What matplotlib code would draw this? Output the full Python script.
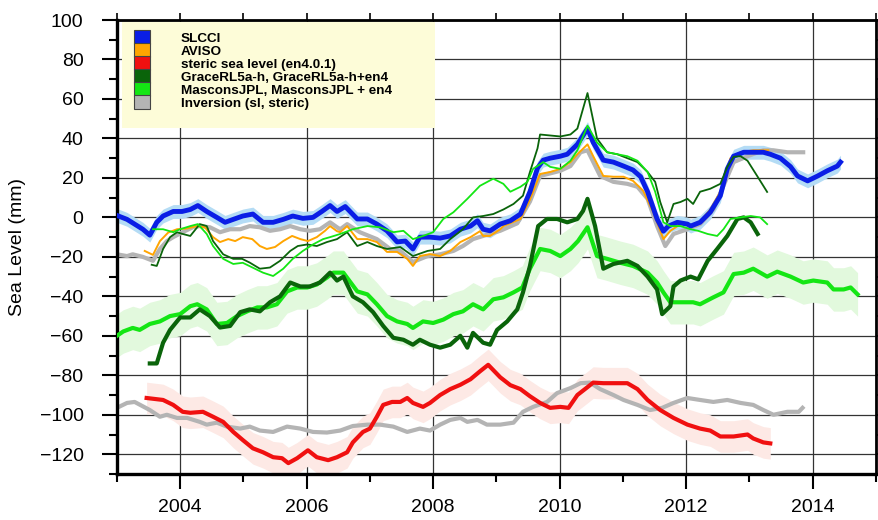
import matplotlib
matplotlib.use("Agg")
import matplotlib.pyplot as plt
from matplotlib.patches import Patch, Rectangle
import numpy as np

plt.rcParams['font.family'] = ['Liberation Sans', 'DejaVu Sans']

# SLCCI altimetry
slcci_t = [2003.00, 2003.16, 2003.41, 2003.52, 2003.63, 2003.73, 2003.89, 2004.03, 2004.16, 2004.28,
           2004.42, 2004.58, 2004.71, 2004.84, 2004.99, 2005.15, 2005.31, 2005.47, 2005.63, 2005.78,
           2005.94, 2006.10, 2006.24, 2006.37, 2006.48, 2006.61, 2006.80, 2006.96, 2007.11, 2007.27,
           2007.43, 2007.56, 2007.68, 2007.79, 2007.95, 2008.11, 2008.27, 2008.43, 2008.59, 2008.70,
           2008.79, 2008.90, 2009.06, 2009.22, 2009.38, 2009.53, 2009.65, 2009.74, 2009.85, 2010.01,
           2010.12, 2010.28, 2010.44, 2010.53, 2010.69, 2010.85, 2011.01, 2011.16, 2011.28, 2011.39,
           2011.54, 2011.64, 2011.72, 2011.86, 2012.02, 2012.07, 2012.22, 2012.38, 2012.54, 2012.65,
           2012.75, 2012.91, 2013.06, 2013.22, 2013.33, 2013.49, 2013.65, 2013.76, 2013.92, 2014.08,
           2014.23, 2014.39, 2014.44]
slcci_v = [1, -1, -6, -9, -2.5, 0.7, 3, 3, 4, 6,
           3, 0, -2.5, -1, 0.7, 1.7, -2.5, -2.5, -1, 0.7,
           -0.5, 0, 3, 6, 3, 5.5, -0.8, -0.8, -3.4, -6.8,
           -12.4, -12, -16, -10, -10, -10.5, -9.4, -6, -4.4, -1.7,
           -6, -6.8, -3.4, -1.7, 1.7, 13, 25, 29, 30, 31,
           32, 37, 45, 38, 29, 28, 26, 24, 20.6, 13,
           -0.8, -7, -4.4, -2.5, -3.4, -4.4, -2.5, 2.6, 11, 24.6,
           31, 33, 33, 33, 32, 30, 25.7, 21, 18.5, 21,
           23.6, 26, 28]

# AVISO altimetry
aviso_t = [2003.44, 2003.57, 2003.68, 2003.81, 2003.95, 2004.11, 2004.27, 2004.39, 2004.52, 2004.63,
           2004.76, 2004.87, 2004.99, 2005.14, 2005.26, 2005.37, 2005.50, 2005.63, 2005.77, 2005.90,
           2006.02, 2006.16, 2006.29, 2006.37, 2006.48, 2006.53, 2006.64, 2006.80, 2006.96, 2007.11,
           2007.27, 2007.43, 2007.59, 2007.68, 2007.79, 2007.95, 2008.11, 2008.27, 2008.43, 2008.59,
           2008.74, 2008.79, 2008.90, 2009.06, 2009.11, 2009.38, 2009.53, 2009.69, 2009.85, 2010.01,
           2010.17, 2010.28, 2010.44, 2010.53, 2010.69, 2010.85, 2011.01, 2011.16, 2011.32, 2011.48,
           2011.64, 2011.75, 2011.91, 2012.07, 2012.22, 2012.38, 2012.54, 2012.70, 2012.86, 2013.06,
           2013.30]
aviso_v = [-17, -19, -12, -7.7, -6, -5.6, -4.4, -5, -10, -12.5,
           -11, -12, -10, -11, -14.5, -16, -15, -12, -9.4, -11,
           -12, -10, -6.8, -4.4, -7, -7.5, -4.4, -11, -11, -12.5,
           -17.5, -17.5, -21, -24.6, -19.6, -18.6, -19.6, -17, -12.5, -10,
           -7, -9.4, -9.4, -6, -4.4, -0.8, 9, 22, 23, 24.6,
           28, 32, 37, 31, 21, 20.6, 20.6, 18.5, 13.5, 2.6,
           -11, -6.8, -3.4, -4.4, -2, 4, 13, 30, 33, 34,
           34]

# steric sea level (en4.0.1)
steric_t = [2003.47, 2003.73, 2003.89, 2004.04, 2004.16, 2004.36, 2004.52, 2004.68, 2004.84, 2004.99,
            2005.15, 2005.31, 2005.47, 2005.61, 2005.71, 2005.85, 2006.02, 2006.16, 2006.34, 2006.48,
            2006.64, 2006.73, 2006.89, 2007.00, 2007.11, 2007.21, 2007.35, 2007.48, 2007.59, 2007.68,
            2007.84, 2007.95, 2008.11, 2008.27, 2008.43, 2008.59, 2008.74, 2008.87, 2009.06, 2009.22,
            2009.38, 2009.53, 2009.69, 2009.85, 2010.01, 2010.14, 2010.28, 2010.44, 2010.53, 2010.69,
            2010.85, 2011.07, 2011.23, 2011.39, 2011.59, 2011.80, 2012.02, 2012.22, 2012.38, 2012.54,
            2012.75, 2012.97, 2013.06, 2013.22, 2013.33]
steric_v = [-91.5, -92.5, -95, -98.5, -99, -98.5, -101, -103.6, -108.7, -112.8,
            -117, -119, -121.5, -122, -124.5, -122, -118, -121.5, -123, -121.5,
            -119, -114, -108.7, -107, -101, -95, -93.5, -93.5, -91.5, -94,
            -96, -94, -90, -87, -84.8, -82, -78, -74.7, -81, -85,
            -87, -90.6, -94, -96.5, -96, -96.5, -90, -86, -83.7, -84,
            -84, -84, -87, -92.5, -97.6, -101.6, -105, -107, -108, -111,
            -111, -110, -112, -114, -114.5]

# GraceRL5a-h (mass) and GraceRL5a-h + en4
grace_t = [2003.52, 2003.63, 2003.73, 2003.84, 2004.00, 2004.16, 2004.31, 2004.47, 2004.63, 2004.79,
           2004.95, 2005.10, 2005.26, 2005.42, 2005.58, 2005.74, 2005.90, 2006.05, 2006.21, 2006.37,
           2006.48, 2006.58, 2006.73, 2006.89, 2007.05, 2007.21, 2007.37, 2007.53, 2007.68, 2007.79,
           2007.95, 2008.11, 2008.27, 2008.43, 2008.54, 2008.63, 2008.79, 2008.90, 2009.01, 2009.17,
           2009.33, 2009.42, 2009.53, 2009.66, 2009.80, 2009.96, 2010.12, 2010.28, 2010.37, 2010.44,
           2010.56, 2010.69, 2010.85, 2011.07, 2011.23, 2011.39, 2011.54, 2011.62, 2011.75, 2011.80,
           2011.91, 2012.07, 2012.19, 2012.34, 2012.49, 2012.65, 2012.81, 2012.91, 2013.02, 2013.13]
grace_v = [-74, -74, -63.5, -57, -50.7, -50.7, -46.6, -50, -55.8, -55,
           -48, -46.6, -47.6, -43, -40, -33, -35, -35, -33, -28,
           -32, -30, -40, -43, -48, -55, -61, -62, -64.5, -62,
           -64.5, -66, -64.5, -60, -66, -58.5, -63.5, -64.5, -57, -52.7,
           -46.6, -38, -24.6, -4.4, -0.8, -0.8, -2.5, -0.8, 3.3, 9.4,
           -4.4, -26, -23.6, -22, -24.6, -30, -36.5, -49, -45, -35,
           -32, -30, -31.4, -22, -16, -9.4, -0.8, 0, -2.5, -8.4]

grace_en4_t = [2003.55, 2003.63, 2003.73, 2003.84, 2003.95, 2004.04, 2004.16, 2004.31, 2004.42, 2004.52,
               2004.68, 2004.84, 2004.98, 2005.10, 2005.26, 2005.42, 2005.58, 2005.74, 2005.86, 2006.01,
               2006.16, 2006.32, 2006.48, 2006.64, 2006.80, 2006.96, 2007.11, 2007.27, 2007.48, 2007.68,
               2007.91, 2008.11, 2008.27, 2008.47, 2008.63, 2008.79, 2008.95, 2009.11, 2009.27, 2009.42,
               2009.53, 2009.65, 2009.69, 2010.01, 2010.17, 2010.28, 2010.44, 2010.59, 2010.75, 2010.91,
               2011.07, 2011.23, 2011.39, 2011.51, 2011.59, 2011.70, 2011.80, 2011.91, 2012.02, 2012.11,
               2012.22, 2012.38, 2012.54, 2012.65, 2012.75, 2012.86, 2012.97, 2013.13, 2013.28]
grace_en4_v = [-24, -24.6, -16, -10, -7.5, -8.4, -9.4, -3.4, -4.4, -12,
               -18.7, -21, -21, -22.9, -26, -25.4, -22, -17, -14.5, -13.7,
               -14.5, -12.5, -11, -7.5, -14.5, -12.5, -14.5, -16, -15, -19.6,
               -17, -16, -11, -6, 0, 0.7, 1.7, 4, 6.8, 11,
               23, 35, 42, 41, 42, 45, 63, 40, 33, 32,
               30, 28, 23, 18, 7.8, -2.5, 6.8, 7.8, 9.4, 6.8,
               13, 14.5, 17, 25.6, 30.7, 31, 28.7, 20.6, 12.9]

# MasconsJPL (mass) and MasconsJPL + en4
mascon_t = [2003.00, 2003.10, 2003.25, 2003.36, 2003.52, 2003.68, 2003.84, 2004.00, 2004.16, 2004.27,
            2004.42, 2004.58, 2004.74, 2004.90, 2005.06, 2005.22, 2005.37, 2005.53, 2005.69, 2005.85,
            2006.01, 2006.16, 2006.32, 2006.42, 2006.58, 2006.80, 2006.96, 2007.11, 2007.27, 2007.43,
            2007.59, 2007.68, 2007.84, 2008.00, 2008.16, 2008.32, 2008.47, 2008.63, 2008.79, 2008.95,
            2009.11, 2009.27, 2009.41, 2009.53, 2009.69, 2009.85, 2010.01, 2010.17, 2010.29, 2010.44,
            2010.59, 2010.75, 2010.96, 2011.16, 2011.39, 2011.54, 2011.64, 2011.75, 2011.91, 2012.11,
            2012.22, 2012.43, 2012.59, 2012.75, 2012.91, 2013.06, 2013.28, 2013.44, 2013.65, 2013.85,
            2014.01, 2014.23, 2014.33, 2014.49, 2014.60, 2014.71]
mascon_v = [-60, -57.8, -56, -57, -54, -52.7, -50, -49, -45, -44,
            -46.6, -54, -53.5, -50, -47.6, -45.6, -45.6, -44, -37.5, -35.5,
            -35.5, -34, -30.5, -28, -28, -37.5, -39, -44, -50, -52.7,
            -54, -56, -52.7, -53.5, -51.8, -49, -47.6, -44, -46.6, -41.5,
            -40.5, -38, -35.5, -26, -16, -17, -19.6, -16, -12, -5,
            -19.6, -21, -23, -24.6, -28, -33, -38, -43, -43, -43,
            -44, -40.5, -38, -28.7, -28, -26, -30, -27.5, -30, -33,
            -32, -33, -36.5, -36.5, -35.5, -39]

mascon_en4_t = [2003.57, 2003.73, 2003.89, 2004.00, 2004.16, 2004.28, 2004.42, 2004.52, 2004.68, 2004.84,
                2004.99, 2005.15, 2005.31, 2005.47, 2005.63, 2005.78, 2005.94, 2006.10, 2006.26, 2006.37,
                2006.53, 2006.73, 2006.96, 2007.16, 2007.37, 2007.53, 2007.68, 2007.84, 2008.00, 2008.16,
                2008.32, 2008.54, 2008.74, 2008.95, 2009.11, 2009.22, 2009.38, 2009.49, 2009.58, 2009.74,
                2009.85, 2010.01, 2010.17, 2010.28, 2010.44, 2010.59, 2010.75, 2010.91, 2011.07, 2011.23,
                2011.39, 2011.51, 2011.64, 2011.75, 2011.91, 2012.07, 2012.19, 2012.34, 2012.49, 2012.59,
                2012.70, 2012.86, 2013.02, 2013.17, 2013.28]
mascon_en4_v = [-6, -6, -7.5, -6, -4.4, -3.4, -8.4, -14.5, -21, -23.6,
                -23, -25.5, -28, -29.7, -26, -21, -17, -13.7, -11, -10,
                -8.4, -6, -4.4, -5, -7.5, -6.8, -11, -9.4, -7.5, -0.8,
                2.6, 9.4, 16, 19.6, 17, 13, 15.5, 18, 24.6, 28,
                25.6, 24.6, 28.7, 34, 46.5, 38, 33, 32, 31, 28.7,
                23, 13, -2.5, -4.4, -4.4, -6, -6.8, -8.4, -9.4, -6,
                -0.8, 0, 0.7, 0, -3.4]

# Inversion: sea level part and steric part
inv_sl_t = [2003.00, 2003.16, 2003.25, 2003.41, 2003.57, 2003.68, 2003.79, 2003.89, 2004.04, 2004.20,
            2004.31, 2004.47, 2004.63, 2004.79, 2004.95, 2005.10, 2005.26, 2005.42, 2005.58, 2005.74,
            2005.90, 2006.05, 2006.21, 2006.37, 2006.48, 2006.53, 2006.64, 2006.84, 2007.11, 2007.32,
            2007.48, 2007.68, 2007.91, 2008.11, 2008.32, 2008.47, 2008.63, 2008.79, 2009.06, 2009.33,
            2009.53, 2009.69, 2010.01, 2010.17, 2010.33, 2010.44, 2010.64, 2010.85, 2011.07, 2011.23,
            2011.39, 2011.54, 2011.67, 2011.80, 2012.02, 2012.22, 2012.43, 2012.59, 2012.75, 2012.97,
            2013.22, 2013.38, 2013.60, 2013.81, 2013.85]
inv_sl_v = [-18.7, -19.6, -18.7, -20, -22, -16, -12, -10, -7.5, -5,
            -4.4, -5, -7.5, -6, -6, -4.4, -5, -6.8, -6, -4.4,
            -6, -6.8, -6, -2.5, -5, -6, -3.4, -7.5, -11, -16,
            -17, -22.6, -19.6, -18.7, -17, -14.5, -11, -9.4, -6.8, -3,
            8, 21, 23.6, 26, 33, 34, 21, 18, 17, 15.5,
            9.4, -4.4, -14.5, -8.4, -6, -3.4, 4, 16, 28, 31,
            34, 34, 33, 33, 33]

inv_st_t = [2003.00, 2003.16, 2003.28, 2003.52, 2003.68, 2003.79, 2003.95, 2004.11, 2004.31, 2004.42,
            2004.58, 2004.74, 2004.95, 2005.10, 2005.26, 2005.47, 2005.69, 2005.90, 2006.10, 2006.32,
            2006.53, 2006.73, 2006.96, 2007.16, 2007.37, 2007.59, 2007.79, 2007.95, 2008.11, 2008.27,
            2008.43, 2008.54, 2008.70, 2008.85, 2009.06, 2009.27, 2009.42, 2009.58, 2009.80, 2009.96,
            2010.17, 2010.33, 2010.48, 2010.64, 2010.85, 2011.01, 2011.23, 2011.43, 2011.62, 2011.80,
            2012.02, 2012.22, 2012.43, 2012.65, 2012.86, 2013.06, 2013.22, 2013.38, 2013.60, 2013.78,
            2013.84]
inv_st_v = [-96.5, -94, -93.5, -97.6, -101, -100, -101.6, -101.6, -103.6, -105,
            -104, -106, -107, -106, -108, -108.7, -106, -107, -108.7, -109,
            -108, -105.7, -105, -105, -106, -108.7, -107, -108, -105, -102.6,
            -101.6, -103.6, -102.6, -105, -105, -104, -98.5, -96, -93.5, -89,
            -86.5, -84, -83.7, -87, -90, -92.5, -95, -97.6, -96.5, -94,
            -91.5, -92.5, -93.5, -92.5, -94, -95, -97.6, -100, -98.5, -98.5,
            -96.5]

legend_labels = ["SLCCI", "AVISO", "steric sea level (en4.0.1)",
                 "GraceRL5a-h, GraceRL5a-h+en4", "MasconsJPL, MasconsJPL + en4",
                 "Inversion (sl, steric)"]

c_blue = "#0a1ee6"
c_orange = "#ffa500"
c_red = "#f01010"
c_dark = "#0a640a"
c_light = "#14e614"
c_gray = "#b4b4b4"

fig = plt.figure(figsize=(8.79, 5.2), dpi=100)
ax = fig.add_axes([0.133, 0.0885, 0.8635, 0.873])

# uncertainty bands
t = np.array(mascon_t); v = np.array(mascon_v)
ax.fill_between(t, v - 11, v + 11, color="#e2f9dd", lw=0, zorder=1)
t = np.array(steric_t); v = np.array(steric_v)
ax.fill_between(t, v - 8, v + 8, color="#fde9e5", lw=0, zorder=1)
t = np.array(slcci_t); v = np.array(slcci_v)
ax.fill_between(t, v - 3.5, v + 3.5, color="#b4dcf5", lw=0, zorder=1.2)

ax.plot(inv_st_t, inv_st_v, color=c_gray, lw=3, zorder=2)
ax.plot(inv_sl_t, inv_sl_v, color=c_gray, lw=3, zorder=2)
ax.plot(steric_t, steric_v, color=c_red, lw=3, zorder=2.5)
ax.plot(mascon_t, mascon_v, color=c_light, lw=3, zorder=3)
ax.plot(grace_t, grace_v, color=c_dark, lw=3, zorder=3.1)
ax.plot(aviso_t, aviso_v, color=c_orange, lw=1.4, zorder=3.2)
ax.plot(slcci_t, slcci_v, color=c_blue, lw=3.5, zorder=3.3)
ax.plot(grace_en4_t, grace_en4_v, color=c_dark, lw=1.3, zorder=3.5)
ax.plot(mascon_en4_t, mascon_en4_v, color=c_light, lw=1.3, zorder=3.5)

ax.set_xlim(2003, 2015)
ax.set_ylim(-130, 100)

ax.set_xticks(range(2004, 2015, 2))
ax.set_xticks(range(2003, 2016), minor=True)
ax.set_yticks(range(-120, 101, 20))
ax.set_yticks(range(-130, 101, 10), minor=True)
ax.tick_params(axis='both', which='major', direction='out', length=11, width=1.5, labelsize=14)
ax.tick_params(axis='both', which='minor', direction='out', length=5.5, width=1.5)
ax.tick_params(axis='x', which='major', pad=7)
ax.tick_params(axis='y', which='major', pad=13)
ax.grid(True, which='major', color="#333333", lw=0.9)
ax.set_axisbelow(True)

for side in ['left', 'bottom']:
    ax.spines[side].set_linewidth(2.4)
for side in ['top', 'right']:
    ax.spines[side].set_linewidth(2.0)

sec_top = ax.secondary_xaxis('top')
sec_top.set_xticks(range(2003, 2016))
sec_top.tick_params(direction='out', length=5, width=1.2, labeltop=False)
sec_right = ax.secondary_yaxis('right')
sec_right.set_yticks(range(-130, 101, 10))
sec_right.tick_params(direction='out', length=5, width=1.2, labelright=False)

ax.set_ylabel("Sea Level (mm)", fontsize=14, labelpad=10)

# legend box
ax.add_patch(Rectangle((0.0066, 0.762), 0.412, 0.234, transform=ax.transAxes,
                       facecolor="#fdfcd8", edgecolor="none", zorder=4))
colors = [c_blue, c_orange, c_red, c_dark, c_light, c_gray]
handles = [Patch(facecolor=c, edgecolor="#444444", lw=0.8) for c in colors]
leg = ax.legend(handles, legend_labels, loc='upper left', bbox_to_anchor=(0.0224, 0.978),
                frameon=False, borderpad=0, borderaxespad=0, handlelength=1.2,
                handleheight=1.25, labelspacing=-0.12, handletextpad=2.3,
                prop={'size': 9.7, 'weight': 'bold'})
leg.set_zorder(5)

fig.savefig("out.png", dpi=100)
